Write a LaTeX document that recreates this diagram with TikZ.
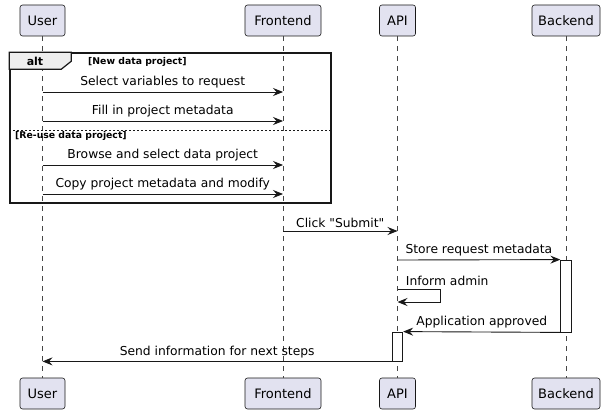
\documentclass[tikz,border=0pt]{standalone}
\usepackage{fontspec}
\setmainfont{DejaVu Sans}
\usetikzlibrary{arrows.meta, positioning}
\definecolor{partfill}{HTML}{E2E2F0}
\definecolor{lineclr}{HTML}{181818}
\definecolor{tabfill}{HTML}{EEEEEE}

\begin{document}
\begin{tikzpicture}[x=1pt, y=-1pt,
    participant/.style={rectangle, rounded corners=2.5pt, minimum height=31pt, inner sep=0pt, draw=lineclr, fill=partfill, line width=0.6pt, font=\fontsize{13}{15}\selectfont},
    lifeline/.style={draw=lineclr!80, dash pattern=on 5pt off 5pt, line width=0.5pt},
    activation/.style={rectangle, draw=lineclr, fill=white, minimum width=10.5pt, inner sep=0pt, line width=0.8pt},
    msg/.style={-{Stealth[length=10pt, width=8pt, inset=3.5pt]}, line width=0.9pt, draw=lineclr},
    msglabel/.style={font=\fontsize{12.3}{14}\selectfont, inner sep=0pt, above=3pt},
    guard/.style={font=\bfseries\fontsize{9.3}{11}\selectfont, inner sep=0pt, anchor=west}
]
    \useasboundingbox (0,0) rectangle (607,414);

    % Participants
    \node[participant, minimum width=45pt] (userT) at (42.5,20.5) {User};
    \node[participant, minimum width=76pt] (frontT) at (283,20.5) {Frontend};
    \node[participant, minimum width=36pt] (apiT) at (397.5,20.5) {API};
    \node[participant, minimum width=68pt] (backT) at (566,20.5) {Backend};
    \node[participant, minimum width=45pt] (userB) at (42.5,393.5) {User};
    \node[participant, minimum width=76pt] (frontB) at (283,393.5) {Frontend};
    \node[participant, minimum width=36pt] (apiB) at (397.5,393.5) {API};
    \node[participant, minimum width=68pt] (backB) at (566,393.5) {Backend};

    % Lifelines
    \draw[lifeline] (userT) -- (userB);
    \draw[lifeline] (frontT) -- (frontB);
    \draw[lifeline] (apiT) -- (apiB);
    \draw[lifeline] (backT) -- (backB);

    % Alt frame
    \node[draw=lineclr, line width=1.5pt, minimum width=321pt, minimum height=150pt, inner sep=0pt] (altframe) at (170.5,128) {};
    \draw[draw=lineclr, fill=tabfill, line width=1.2pt] (altframe.north west) -- ++(62,0) -- ++(0,9) -- ++(-10,8) -- ++(-52,0) -- cycle;
    \node[font=\bfseries\fontsize{11}{13}\selectfont, inner sep=0pt] (alttag) at (35,61.5) {alt};
    \node[guard] (guardnew) at (88,62) {[New data project]};
    \coordinate (sep) at (0,130);
    \draw[draw=lineclr, line width=0.8pt, dash pattern=on 2pt off 2pt] (altframe.west |- sep) -- (altframe.east |- sep);
    \node[guard] (guardreuse) at (15,136) {[Re-use data project]};

    % Messages inside alt
    \coordinate (m1) at (0,92);
    \coordinate (m2) at (0,121);
    \coordinate (m3) at (0,165);
    \coordinate (m4) at (0,194);
    \draw[msg] (userT |- m1) -- (frontT |- m1) node[msglabel, midway] {Select variables to request};
    \draw[msg] (userT |- m2) -- (frontT |- m2) node[msglabel, midway] {Fill in project metadata};
    \draw[msg] (userT |- m3) -- (frontT |- m3) node[msglabel, midway] {Browse and select data project};
    \draw[msg] (userT |- m4) -- (frontT |- m4) node[msglabel, midway] {Copy project metadata and modify};

    % Activations
    \node[activation, minimum height=72pt] (actB) at (566,296) {};
    \node[activation, minimum height=29pt] (actA) at (397.5,346.5) {};

    % Submit and processing
    \coordinate (m5) at (0,231);
    \coordinate (m6) at (0,260);
    \coordinate (m7) at (0,289);
    \coordinate (m8) at (0,302);
    \draw[msg] (frontT |- m5) -- (apiT |- m5) node[msglabel, midway] {Click \textquotedbl Submit\textquotedbl};
    \draw[msg] (apiT |- m6) -- (actB.north west) node[msglabel, midway] {Store request metadata};
    \draw[msg] (apiT |- m7) node[msglabel, anchor=south west, xshift=8pt] (informlbl) {Inform admin} -- ++(43,0) |- (apiT |- m8);
    \draw[msg] (actB.south west) -- (actA.north east) node[msglabel, midway] {Application approved};
    \draw[msg] (actA.south west) -- (userT |- actA.south) node[msglabel, midway] {Send information for next steps};

\end{tikzpicture}
\end{document}
